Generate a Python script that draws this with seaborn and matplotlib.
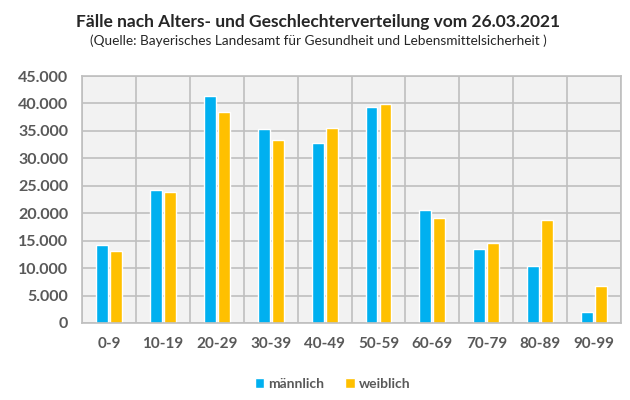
import matplotlib
matplotlib.use("Agg")
import matplotlib.pyplot as plt
from matplotlib.ticker import FuncFormatter, MultipleLocator, FixedLocator
import seaborn as sns
import pandas as pd

altersgruppen = ['0-9', '10-19', '20-29', '30-39', '40-49', '50-59', '60-69', '70-79', '80-89', '90-99']
maennlich = [14200, 24200, 41300, 35300, 32800, 39300, 20600, 13500, 10400, 2000]
weiblich = [13100, 23900, 38400, 33300, 35500, 39900, 19100, 14600, 18800, 6700]

df = pd.DataFrame({
    'Alter': altersgruppen * 2,
    'Faelle': maennlich + weiblich,
    'Geschlecht': ['männlich'] * len(altersgruppen) + ['weiblich'] * len(altersgruppen),
})

sns.set_style('white')
plt.rcParams['font.family'] = ['Lato', 'DejaVu Sans']

fig = plt.figure(figsize=(6.3, 4), dpi=100)
ax = fig.add_axes([0.130, 0.1925, 0.856, 0.6175])
ax.set_facecolor('#F2F2F2')

sns.barplot(df, x='Alter', y='Faelle', hue='Geschlecht',
            palette={'männlich': '#00B0F0', 'weiblich': '#FFC000'},
            width=0.52, gap=0.15, ax=ax, legend=True, saturation=1)

ax.set_xlim(-0.5, len(altersgruppen) - 0.5)
ax.set_ylim(0, 45000)
ax.yaxis.set_major_locator(MultipleLocator(5000))
ax.yaxis.set_major_formatter(FuncFormatter(lambda v, p: f'{int(v):,}'.replace(',', '.')))
ax.xaxis.set_minor_locator(FixedLocator([i - 0.5 for i in range(len(altersgruppen) + 1)]))
ax.grid(True, axis='y', which='major', color='#BFBFBF', linewidth=1.2)
ax.grid(True, axis='x', which='minor', color='#BFBFBF', linewidth=1.2)
ax.set_axisbelow(True)
for s in ax.spines.values():
    s.set_color('#BFBFBF')
    s.set_linewidth(1.2)
ax.tick_params(axis='both', which='both', length=0, labelcolor='#595959')
ax.tick_params(axis='x', pad=10, labelsize=11)
ax.tick_params(axis='y', pad=10, labelsize=11.5)
for lab in ax.get_xticklabels() + ax.get_yticklabels():
    lab.set_fontweight('bold')
ax.set_xlabel('')
ax.set_ylabel('')

leg = ax.legend(loc='center', bbox_to_anchor=(0.5 - 0.035, -0.245), ncol=2, frameon=False,
                handlelength=0.7, handleheight=0.7, handletextpad=0.3, columnspacing=1.5,
                prop={'weight': 'bold', 'size': 10})
for t in leg.get_texts():
    t.set_color('#595959')

fig.text(0.505, 0.945, 'Fälle nach Alters- und Geschlechterverteilung vom 26.03.2021',
         ha='center', va='center', fontsize=12.5, fontweight='bold', color='#262626')
fig.text(0.505, 0.897, '(Quelle: Bayerisches Landesamt für Gesundheit und Lebensmittelsicherheit )',
         ha='center', va='center', fontsize=9.8, color='#262626')

fig.savefig('out.png', dpi=100, facecolor='white')
